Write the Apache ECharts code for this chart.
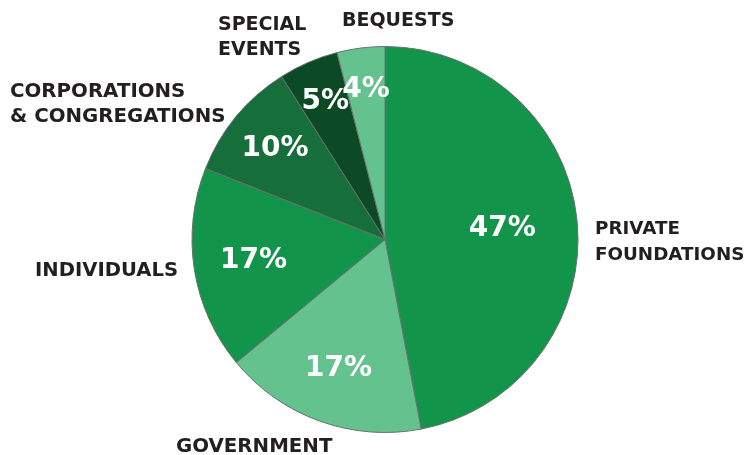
<!DOCTYPE html>
<html><head><meta charset="utf-8">
<script src="https://cdn.jsdelivr.net/npm/echarts@6/dist/echarts.min.js"></script>
<style>html,body{margin:0;padding:0;background:#fff}#c{width:747px;height:455px}</style>
</head><body><div id="c"></div>
<script>
const categories = ['Private Foundations','Government','Individuals','Corporations & Congregations','Special Events','Bequests'];
const displayLabels = ['PRIVATE\nFOUNDATIONS','GOVERNMENT','INDIVIDUALS','CORPORATIONS\n& CONGREGATIONS','SPECIAL\nEVENTS','BEQUESTS'];
const values = [47,17,17,10,5,4];

const colors = ['#12944a','#64c28f','#12944a','#166f3b','#0b4a24','#64c28f'];
const CX = 385, CY = 239.5, R = 193;
const labelRadiusFrac = [0.61, 0.71, 0.69, 0.74, 0.78, 0.78];
// x, y, lineHeight, fontSize
const namePos = [[595,242,26,18.3],[176,447,25,19.8],[35,271,25,19.6],[10,104.5,25,19.8],[218,37.5,25,19],[342,21,25,19]];

const total = values.reduce((a,b)=>a+b,0);
const mids = []; let acc = 0;
values.forEach(v=>{ mids.push(90 - (acc + v/2)/total*360); acc += v; });

const chart = echarts.init(document.getElementById('c'));
chart.setOption({
  animation:false,
  series:[{
    type:'pie', center:[CX,CY], radius:[0,R], startAngle:90, clockwise:true,
    data: categories.map((n,i)=>({name:n, value:values[i], itemStyle:{color:colors[i]}})),
    itemStyle:{borderColor:'#6d6e70', borderWidth:1},
    label:{show:true, position:'inside', formatter:'{c}%', color:'#fff', fontFamily:'DejaVu Sans', fontWeight:'bold', fontSize:28},
    labelLine:{show:false},
    labelLayout:function(p){
      const i = p.dataIndex; const a = mids[i]*Math.PI/180; const r = R*labelRadiusFrac[i];
      return {x: CX + r*Math.cos(a), y: CY - r*Math.sin(a), align:'center', verticalAlign:'middle'};
    }
  }],
  graphic: displayLabels.map((t,i)=>({
    type:'text', x:namePos[i][0], y:namePos[i][1],
    style:{text:t, fill:'#231f20', font:'bold '+namePos[i][3]+'px "DejaVu Sans"', textAlign:'left', textVerticalAlign:'middle', lineHeight:namePos[i][2]}
  }))
});
</script></body></html>
